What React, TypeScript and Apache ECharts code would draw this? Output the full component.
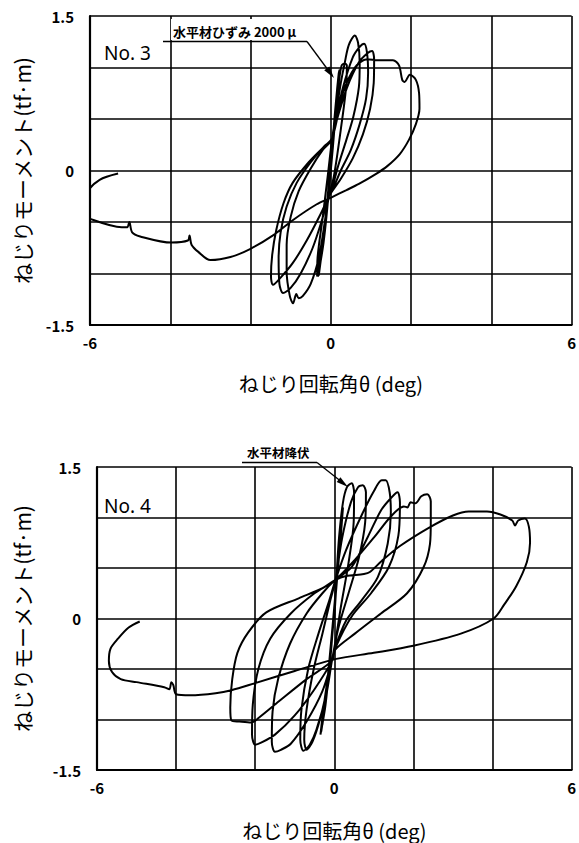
import React, { useEffect, useRef } from "react";
import * as echarts from "echarts";

// ---- data ----
const xTickLabels = [-6, 0, 6];
const yTickLabels = [-1.5, 0, 1.5];
const xTitle = "ねじり回転角θ (deg)";
const yTitle = "ねじりモーメント(tf·m)";
const panelNames = ["No. 3", "No. 4"];
const noteTexts = ["水平材ひずみ 2000 μ", "水平材降伏"];

// No.3 : twist angle (deg), moment (tf·m)
const no3Curve: number[][] = [
  [0, 0], [0.08, 0.45], [0.16, 0.8], [0.2, 0.95], [0.15, 0.72], [0.05, 0.3], [-0.08, -0.3], [-0.2, -0.72], [-0.3, -1.0],
  [-0.22, -0.75], [-0.08, -0.3], [0.05, 0.3], [0.14, 0.7], [0.22, 0.98], [0.18, 0.8], [0.06, 0.35], [-0.06, -0.25],
  [-0.18, -0.7], [-0.32, -1.03], [-0.25, -0.82], [-0.12, -0.45], [0.0, 0.0], [0.1, 0.45],
  [0.17, 0.82], [0.21, 0.97], [0.16, 0.76], [0.04, 0.28], [-0.1, -0.35], [-0.22, -0.78], [-0.3, -1.02],
  [-0.24, -0.8], [-0.1, -0.38], [0.02, 0.1], [0.1, 0.45],
  [0.2, 0.85], [0.27, 1.02], [0.35, 1.04], [0.4, 1.02], [0.38, 0.8], [0.25, 0.4], [0.08, -0.05], [-0.06, -0.28],
  [-0.18, -0.6], [-0.3, -0.95], [-0.34, -1.03], [-0.33, -0.85], [-0.2, -0.45], [-0.06, 0.0], [0.03, 0.3],
  [0.15, 0.6], [0.25, 0.85], [0.35, 1.05], [0.45, 1.22], [0.6, 1.31], [0.68, 1.24], [0.72, 1.04], [0.7, 0.81],
  [0.56, 0.52], [0.39, 0.3], [0.18, 0.04], [0.02, -0.19], [-0.07, -0.27], [-0.15, -0.5], [-0.3, -0.85], [-0.5, -1.1],
  [-0.7, -1.22], [-0.8, -1.24], [-0.86, -1.2], [-0.94, -1.29], [-1.02, -1.22], [-1.1, -0.98], [-1.1, -0.72],
  [-1.0, -0.45], [-0.8, -0.2], [-0.5, 0.02], [-0.2, 0.2], [0.03, 0.3],
  [0.12, 0.48], [0.3, 0.8], [0.55, 1.1], [0.72, 1.2], [0.83, 1.23], [0.9, 1.15], [0.93, 0.95], [0.88, 0.7],
  [0.72, 0.45], [0.5, 0.2], [0.25, 0.0], [0.03, -0.2], [-0.07, -0.27], [-0.22, -0.48], [-0.45, -0.75], [-0.75, -1.0],
  [-1.0, -1.14], [-1.19, -1.19], [-1.28, -1.1], [-1.3, -0.85], [-1.25, -0.6], [-1.1, -0.35], [-0.85, -0.12],
  [-0.5, 0.08], [-0.15, 0.24], [0.03, 0.3],
  [0.12, 0.45], [0.4, 0.8], [0.7, 1.05], [0.92, 1.14], [1.03, 1.16], [1.08, 1.08], [1.07, 0.85], [0.98, 0.6],
  [0.8, 0.35], [0.55, 0.12], [0.25, -0.08], [0.0, -0.22], [-0.07, -0.27], [-0.25, -0.42], [-0.6, -0.68],
  [-0.95, -0.9], [-1.25, -1.04], [-1.44, -1.11], [-1.49, -1.03], [-1.46, -0.82], [-1.36, -0.58], [-1.18, -0.32],
  [-0.95, -0.12], [-0.55, 0.08], [-0.2, 0.22], [0.04, 0.32],
  [0.3, 0.75], [0.6, 1.0], [0.9, 1.08], [1.2, 1.07], [1.55, 1.07], [1.7, 1.02], [1.78, 0.88], [1.84, 0.86],
  [1.97, 0.93], [2.12, 0.88], [2.2, 0.75], [2.21, 0.6], [2.12, 0.45], [1.95, 0.3], [1.72, 0.16], [1.4, 0.04],
  [1.14, -0.03], [0.7, -0.13], [0.39, -0.19], [0.02, -0.26], [-0.36, -0.33], [-0.94, -0.48], [-1.44, -0.63],
  [-2.0, -0.76], [-2.5, -0.84], [-3.0, -0.87], [-3.3, -0.79], [-3.47, -0.72], [-3.52, -0.63], [-3.56, -0.68],
  [-3.97, -0.7], [-4.75, -0.64], [-4.95, -0.6], [-5.02, -0.5], [-5.07, -0.55], [-5.21, -0.55], [-5.99, -0.47],
  [-6.15, -0.42], [-6.2, -0.35], [-6.08, -0.21], [-5.76, -0.09], [-5.3, -0.03],
];

// No.4 : twist angle (deg), moment (tf·m)
const no4Curve: number[][] = [
  [0, 0], [0.08, 0.5], [0.15, 0.9], [0.2, 1.05], [0.14, 0.75], [0.02, 0.2], [-0.1, -0.35], [-0.2, -0.75], [-0.3, -1.05],
  [-0.22, -0.8], [-0.1, -0.4], [0.02, 0.2], [0.12, 0.7], [0.22, 1.1], [0.16, 0.8], [0.04, 0.25], [-0.08, -0.3],
  [-0.22, -0.85], [-0.35, -1.15], [-0.26, -0.85], [-0.12, -0.45], [0.0, 0.1], [0.05, 0.38],
  [0.14, 0.85], [0.2, 1.08], [0.15, 0.8], [0.03, 0.25], [-0.12, -0.4], [-0.25, -0.9], [-0.33, -1.12],
  [-0.25, -0.84], [-0.1, -0.38], [0.02, 0.2], [0.05, 0.38],
  [0.12, 0.8], [0.22, 1.15], [0.32, 1.3], [0.44, 1.34], [0.5, 1.25], [0.49, 0.95], [0.36, 0.55], [0.16, 0.1],
  [0.0, -0.3], [-0.06, -0.42], [-0.16, -0.65], [-0.35, -0.98], [-0.55, -1.22], [-0.7, -1.3], [-0.76, -1.2],
  [-0.7, -0.9], [-0.52, -0.5], [-0.3, -0.15], [-0.1, 0.18], [0.03, 0.38],
  [0.2, 0.8], [0.42, 1.15], [0.6, 1.3], [0.72, 1.32], [0.8, 1.25], [0.78, 0.95], [0.62, 0.6], [0.36, 0.25],
  [0.1, -0.1], [-0.06, -0.42], [-0.2, -0.75], [-0.45, -1.1], [-0.62, -1.25], [-0.78, -1.31], [-0.86, -1.2],
  [-0.83, -0.9], [-0.66, -0.5], [-0.4, -0.15], [-0.15, 0.15], [0.03, 0.38],
  [0.3, 0.68], [0.7, 1.03], [1.0, 1.26], [1.2, 1.37], [1.3, 1.37], [1.4, 1.25], [1.43, 1.05], [1.35, 0.74],
  [1.1, 0.41], [0.69, 0.18], [0.3, -0.02], [0.0, -0.31], [-0.06, -0.42], [-0.3, -0.72], [-0.7, -1.02],
  [-1.1, -1.24], [-1.35, -1.3], [-1.5, -1.32], [-1.58, -1.22], [-1.56, -0.92], [-1.42, -0.6], [-1.12, -0.25],
  [-0.7, 0.05], [-0.3, 0.25], [0.02, 0.38],
  [0.44, 0.51], [0.85, 0.81], [1.18, 1.07], [1.45, 1.2], [1.6, 1.25], [1.66, 1.15], [1.62, 0.82], [1.38, 0.51],
  [0.93, 0.25], [0.44, 0.02], [0.04, -0.28], [-0.06, -0.42], [-0.5, -0.7], [-1.0, -0.96], [-1.5, -1.15],
  [-1.85, -1.23], [-2.0, -1.25], [-2.08, -1.15], [-2.06, -0.85], [-1.92, -0.5], [-1.62, -0.2], [-1.1, 0.05],
  [-0.5, 0.25], [0.02, 0.38],
  [0.52, 0.58], [1.02, 0.81], [1.43, 1.01], [1.76, 1.11], [1.85, 1.1], [1.93, 1.15], [2.05, 1.14], [2.2, 1.21],
  [2.35, 1.23], [2.44, 1.16], [2.44, 0.95], [2.42, 0.74], [2.26, 0.51], [1.84, 0.25], [1.18, 0.05], [0.52, -0.15],
  [0.02, -0.31], [-0.06, -0.42], [-0.7, -0.6], [-1.4, -0.82], [-1.9, -0.98], [-2.1, -1.03], [-2.4, -1.02],
  [-2.6, -1.01], [-2.63, -0.88], [-2.58, -0.6], [-2.45, -0.34], [-2.18, -0.14], [-1.72, 0.06], [-0.9, 0.2],
  [-0.3, 0.3], [0.02, 0.38],
  [0.3, 0.42], [0.75, 0.44], [0.9, 0.46], [1.2, 0.57], [1.67, 0.72], [2.4, 0.9], [3.0, 1.02], [3.4, 1.06],
  [3.86, 1.06], [4.2, 1.03], [4.5, 0.97], [4.57, 0.92], [4.65, 0.97], [4.82, 0.99], [4.92, 0.91], [4.95, 0.75],
  [4.87, 0.56], [4.6, 0.32], [4.3, 0.14], [4.03, 0.0], [3.2, -0.15], [2.0, -0.27], [1.0, -0.34], [0.05, -0.4],
  [-1.0, -0.52], [-2.0, -0.64], [-2.6, -0.71], [-3.0, -0.74], [-3.64, -0.76], [-4.0, -0.75], [-4.07, -0.66],
  [-4.12, -0.63], [-4.17, -0.7], [-4.3, -0.68], [-5.0, -0.63], [-5.4, -0.6], [-5.62, -0.53], [-5.7, -0.42],
  [-5.66, -0.3], [-5.47, -0.2], [-5.2, -0.09], [-4.92, -0.03],
];

const FONT = "'Noto Sans CJK JP', 'Noto Sans', sans-serif";

function makeX(gridIndex: number, nameGap: number) {
  return {
    type: "value",
    gridIndex,
    min: -6,
    max: 6,
    interval: 2,
    name: xTitle,
    nameLocation: "middle",
    nameGap,
    nameTextStyle: { fontFamily: FONT, fontSize: 20, color: "#000" },
    axisLine: { show: true, onZero: false, lineStyle: { color: "#000", width: 2.2 } },
    axisTick: { show: false },
    splitLine: { show: true, lineStyle: { color: "#000", width: 1.6 } },
    axisLabel: {
      margin: 10,
      fontFamily: FONT,
      fontSize: 15,
      fontWeight: "bold",
      color: "#000",
      formatter: (v: number) => (xTickLabels.includes(v) ? String(v) : ""),
    },
  };
}

function makeY(gridIndex: number, nameGap: number) {
  return {
    type: "value",
    gridIndex,
    min: -1.5,
    max: 1.5,
    interval: 0.5,
    name: yTitle,
    nameLocation: "middle",
    nameRotate: 90,
    nameGap,
    nameTextStyle: { fontFamily: FONT, fontSize: 21, color: "#000" },
    axisLine: { show: true, onZero: false, lineStyle: { color: "#000", width: 2.2 } },
    axisTick: { show: false },
    splitLine: { show: true, lineStyle: { color: "#000", width: 1.6 } },
    axisLabel: {
      margin: 16,
      fontFamily: FONT,
      fontSize: 15,
      fontWeight: "bold",
      color: "#000",
      formatter: (v: number) => (yTickLabels.includes(v) ? String(v) : ""),
    },
  };
}

function curveSeries(idx: number, data: number[][]) {
  return {
    type: "line",
    xAxisIndex: idx,
    yAxisIndex: idx,
    data,
    showSymbol: false,
    symbol: "none",
    smooth: 0.3,
    clip: false,
    lineStyle: { color: "#000", width: 2 },
    z: 5,
  };
}

export default function App() {
  const ref = useRef<HTMLDivElement>(null);
  useEffect(() => {
    if (!ref.current) return;
    const chart = echarts.init(ref.current, undefined, { renderer: "svg" });
    const option = {
      animation: false,
      backgroundColor: "#fff",
      grid: [
        { left: 90, top: 16, width: 482, height: 309 },
        { left: 97, top: 467, width: 484, height: 303 },
      ],
      xAxis: [makeX(0, 48), makeX(1, 50)],
      yAxis: [makeY(0, 58), makeY(1, 65)],
      series: [curveSeries(0, no3Curve), curveSeries(1, no4Curve)],
      graphic: [
        // panel 1 annotation
        { type: "rect", shape: { x: 171, y: 19, width: 135, height: 21 }, style: { fill: "#fff" }, z: 10 },
        {
          type: "text", x: 173, y: 31, z: 11,
          style: { text: noteTexts[0], fontFamily: FONT, fontSize: 13, fontWeight: "bold", fill: "#000", verticalAlign: "middle" },
        },
        { type: "line", shape: { x1: 163, y1: 41.5, x2: 307, y2: 41.5 }, style: { stroke: "#000", lineWidth: 1.3 }, z: 11 },
        { type: "line", shape: { x1: 307, y1: 41.5, x2: 331, y2: 74 }, style: { stroke: "#000", lineWidth: 1.3 }, z: 11 },
        { type: "polygon", shape: { points: [[334, 78], [329.4, 66.4], [324.2, 70.2]] }, style: { fill: "#000" }, z: 11 },
        {
          type: "text", x: 104, y: 53, z: 11,
          style: { text: panelNames[0], fontFamily: "'Noto Sans', sans-serif", fontSize: 19, fill: "#000", verticalAlign: "middle" },
        },
        // panel 2 annotation
        {
          type: "text", x: 247, y: 452, z: 11,
          style: { text: noteTexts[1], fontFamily: FONT, fontSize: 12.5, fontWeight: "bold", fill: "#000", verticalAlign: "middle" },
        },
        { type: "line", shape: { x1: 242, y1: 462.5, x2: 317, y2: 462.5 }, style: { stroke: "#000", lineWidth: 1.3 }, z: 11 },
        { type: "line", shape: { x1: 317, y1: 462.5, x2: 345, y2: 484.5 }, style: { stroke: "#000", lineWidth: 1.3 }, z: 11 },
        { type: "polygon", shape: { points: [[348, 487], [340.4, 477.2], [336.7, 482.0]] }, style: { fill: "#000" }, z: 11 },
        {
          type: "text", x: 104, y: 506, z: 11,
          style: { text: panelNames[1], fontFamily: "'Noto Sans', sans-serif", fontSize: 19, fill: "#000", verticalAlign: "middle" },
        },
      ],
    };
    chart.setOption(option as any);
    return () => chart.dispose();
  }, []);
  return (
    <div
      ref={ref}
      style={{ position: "fixed", left: 0, top: 0, width: 579, height: 843, background: "#fff" }}
    />
  );
}
